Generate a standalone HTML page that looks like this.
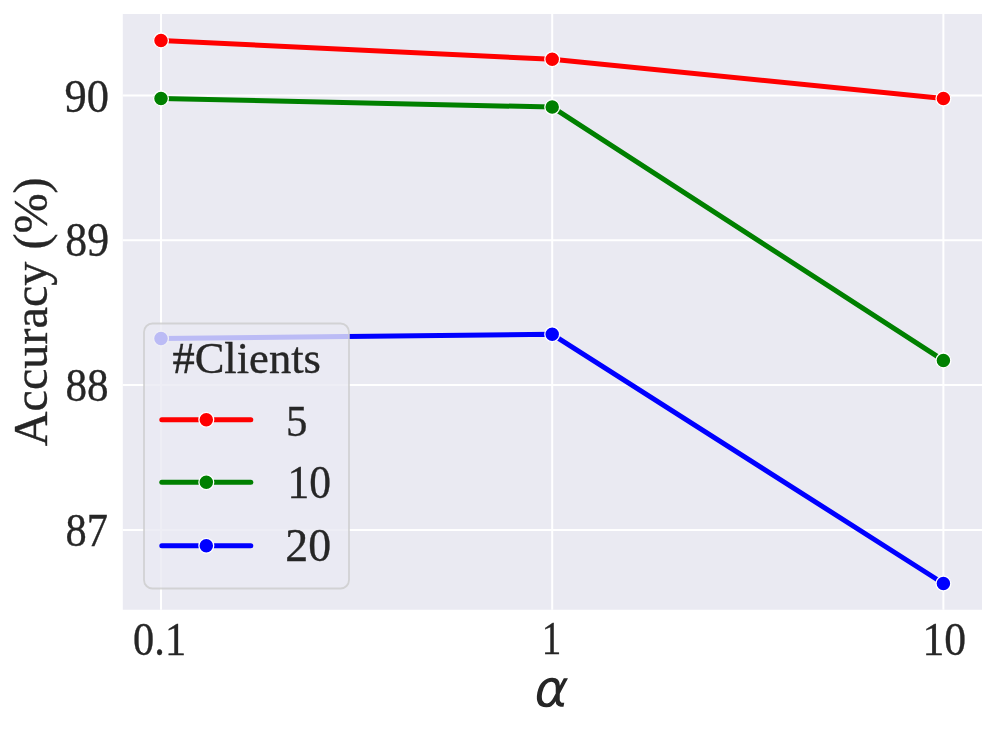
<!DOCTYPE html>
<html><head><meta charset="utf-8">
<title>Accuracy vs alpha</title>
<style>
html,body{margin:0;padding:0;background:#fff;}
body{width:996px;height:732px;overflow:hidden;position:relative;}
svg{position:absolute;left:0;top:0;will-change:transform;}
text{font-family:"Liberation Serif",serif;fill:#262626;stroke:#262626;stroke-width:0.35px;}
</style></head>
<body>
<svg width="996" height="732" viewBox="0 0 996 732">
  <rect x="0" y="0" width="996" height="732" fill="#ffffff"/>
  <rect x="122.8" y="14" width="859.2" height="595.75" fill="#EAEAF2"/>
  <g stroke="#ffffff" stroke-width="2.0" fill="none">
    <line x1="161.0" y1="14" x2="161.0" y2="609.75"/>
    <line x1="552.2" y1="14" x2="552.2" y2="609.75"/>
    <line x1="943.4" y1="14" x2="943.4" y2="609.75"/>
    <line x1="122.8" y1="95.4" x2="982" y2="95.4"/>
    <line x1="122.8" y1="240.3" x2="982" y2="240.3"/>
    <line x1="122.8" y1="385.1" x2="982" y2="385.1"/>
    <line x1="122.8" y1="529.95" x2="982" y2="529.95"/>
  </g>
  <g fill="none" stroke-width="5.0" stroke-linecap="round" stroke-linejoin="round">
    <polyline points="161.0,40.4 552.2,59.3 943.4,98.5" stroke="#ff0000"/>
    <polyline points="161.0,98.4 552.2,107.1 943.4,360.4" stroke="#008000"/>
    <polyline points="161.0,338.6 552.2,334.3 943.4,583.5" stroke="#0000ff"/>
  </g>
  <g stroke="#ffffff" stroke-width="1.3">
    <circle cx="161.0" cy="40.4" r="7.4" fill="#ff0000"/>
    <circle cx="552.2" cy="59.3" r="7.4" fill="#ff0000"/>
    <circle cx="943.4" cy="98.5" r="7.4" fill="#ff0000"/>
    <circle cx="161.0" cy="98.4" r="7.4" fill="#008000"/>
    <circle cx="552.2" cy="107.1" r="7.4" fill="#008000"/>
    <circle cx="943.4" cy="360.4" r="7.4" fill="#008000"/>
    <circle cx="161.0" cy="338.6" r="7.4" fill="#0000ff"/>
    <circle cx="552.2" cy="334.3" r="7.4" fill="#0000ff"/>
    <circle cx="943.4" cy="583.5" r="7.4" fill="#0000ff"/>
  </g>
  <rect x="144.0" y="323.5" width="205.0" height="265.0" rx="8.5" ry="8.5" fill="#EAEAF2" fill-opacity="0.8" stroke="#cccccc" stroke-opacity="0.8" stroke-width="1.8"/>
  <g fill="none" stroke-width="5.0" stroke-linecap="round">
    <line x1="161.8" y1="419.75" x2="250.8" y2="419.75" stroke="#ff0000"/>
    <line x1="161.8" y1="482.2" x2="250.8" y2="482.2" stroke="#008000"/>
    <line x1="161.8" y1="545.7" x2="250.8" y2="545.7" stroke="#0000ff"/>
  </g>
  <g stroke="#ffffff" stroke-width="1.3">
    <circle cx="206.3" cy="419.75" r="7.4" fill="#ff0000"/>
    <circle cx="206.3" cy="482.2" r="7.4" fill="#008000"/>
    <circle cx="206.3" cy="545.7" r="7.4" fill="#0000ff"/>
  </g>
  <text transform="matrix(1.0019,0,0,1.0660,64.58,111.66)" font-size="44.4">90</text>
  <text transform="matrix(0.9857,0,0,1.0774,65.37,256.47)" font-size="44.4">89</text>
  <text transform="matrix(0.9721,0,0,1.0566,65.39,401.08)" font-size="44.4">88</text>
  <text transform="matrix(0.9542,0,0,1.0537,65.51,545.63)" font-size="44.4">87</text>
  <text transform="matrix(0.9542,0,0,1.0469,133.12,654.63)" font-size="44.4">0.1</text>
  <text transform="matrix(0.8800,0,0,1.0383,541.80,654.33)" font-size="44.4">1</text>
  <text transform="matrix(0.9827,0,0,1.0580,922.41,654.63)" font-size="44.4">10</text>
  <text transform="matrix(1.0035,0,0,1.0122,172.39,373.34)" font-size="44.4">#Clients</text>
  <text transform="matrix(0.9649,0,0,1.0212,286.00,435.58)" font-size="44.4">5</text>
  <text transform="matrix(0.9801,0,0,1.0479,287.52,498.33)" font-size="44.4">10</text>
  <text transform="matrix(1.0315,0,0,1.0409,285.32,561.13)" font-size="44.4">20</text>
  <text transform="matrix(0.9883,0,0,0.9980,46.56,446.22) rotate(-90)" font-size="48.3">Accuracy (%)</text>
  <path transform="translate(534.5,706.74) scale(0.02534,-0.02534)" fill="#262626" d="M838 521Q838 521 839 752Q840 988 662 989Q529 990 446 879Q342 742 307 559Q264 339 318 234Q374 127 495 127Q629 127 742 340ZM1001 827Q1001 827 1157 1120Q1157 1120 1321 1120Q1321 1120 998 513Q998 513 995 294Q995 245 1022 204Q1053 156 1085 156Q1085 156 1174 156L1144 0H1033Q939 0 871 84Q839 126 838 214Q773 107 661 16Q608 -26 465 -25Q231 -23 146 127Q59 283 113 559Q171 856 323 991Q494 1142 693 1145Q1005 1150 1001 827Z"/>
</svg>
</body></html>
